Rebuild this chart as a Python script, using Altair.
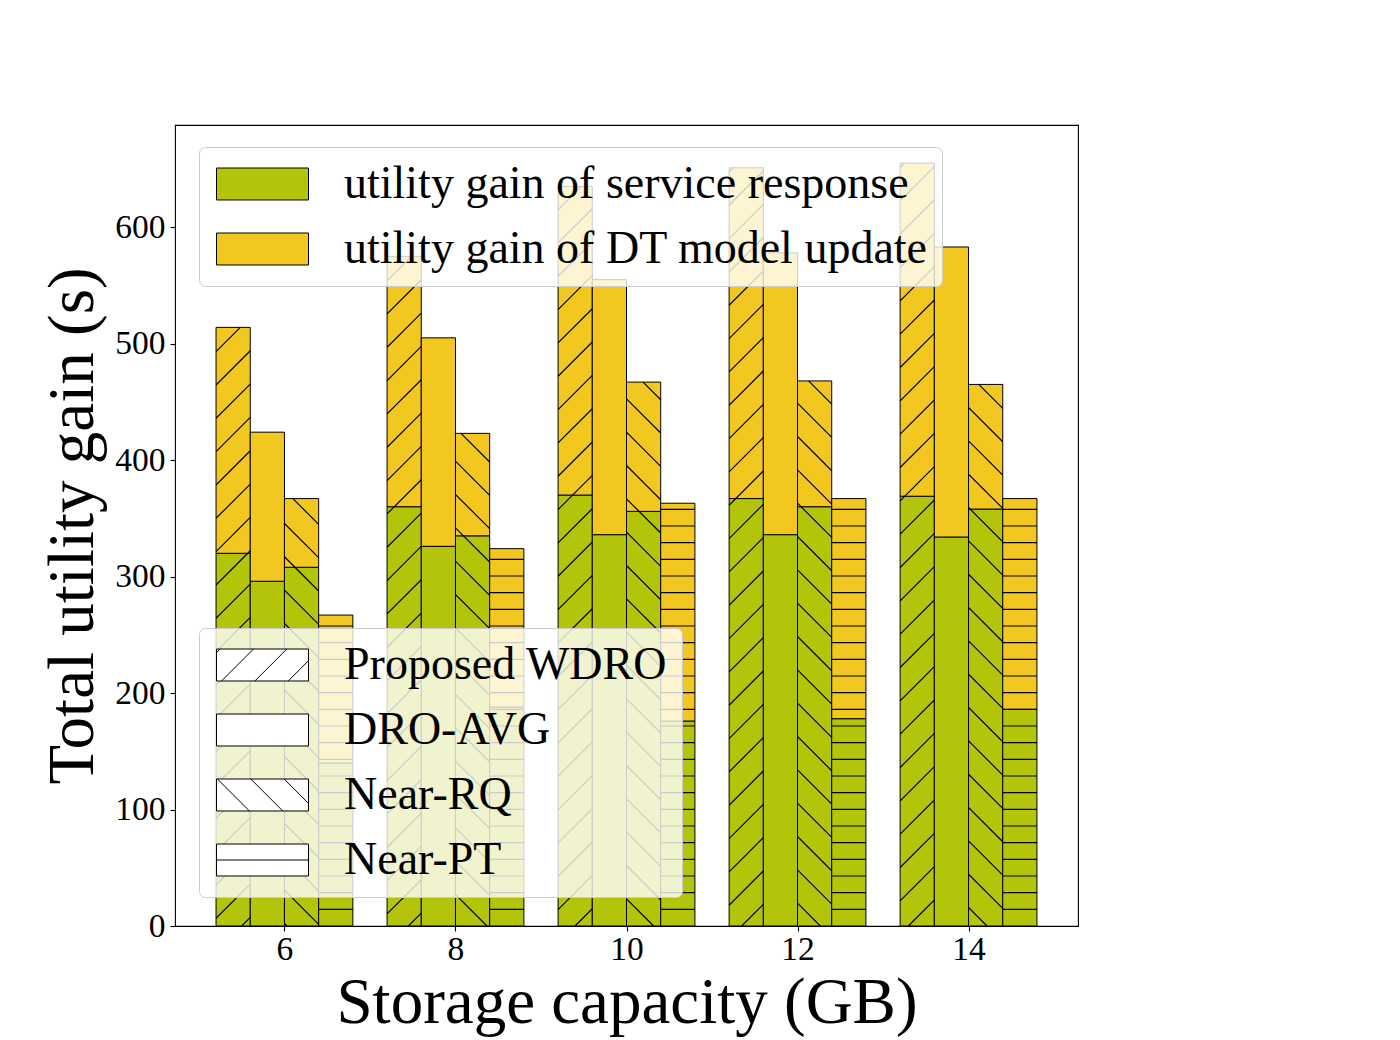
import altair as alt
import pandas as pd
import numpy as np

# ---------------- data ----------------
caps = [6, 8, 10, 12, 14]
methods = ["Proposed WDRO", "DRO-AVG", "Near-RQ", "Near-PT"]
components = ["utility gain of service response", "utility gain of DT model update"]

service_wdro = [320, 360, 370, 367, 369]
service_avg = [296, 326, 336, 336, 334]
service_rq = [308, 335, 356, 360, 358]
service_pt = [140, 188, 176, 178, 186]

update_wdro = [194, 215, 265, 284, 286]
update_avg = [128, 179, 219, 242, 249]
update_rq = [59, 88, 111, 108, 107]
update_pt = [127, 136, 187, 189, 181]

hatches = ["/", "", "\\", "-"]

# ---------------- style / layout ----------------
GREEN = "#b3c40a"
YELLOW = "#f2c71f"
FONT = "Liberation Serif"
W, H = 903, 801
XMIN, XMAX = 4.72, 15.28
YMAX = 687.75
BAR_W = 0.4
SX = W / (XMAX - XMIN)
SY = H / YMAX
P_DIAG = 100.0 / 3.0   # hatch period for diagonal lines (px)
P_HORZ = 100.0 / 6.0   # hatch period for horizontal lines (px)

services = [service_wdro, service_avg, service_rq, service_pt]
updates = [update_wdro, update_avg, update_rq, update_pt]

bar_rows = []
hatch_rows = []
for mi, m in enumerate(methods):
    for ci, c in enumerate(caps):
        x0 = c + (mi - 2) * BAR_W
        x1 = x0 + BAR_W
        s = services[mi][ci]
        u = updates[mi][ci]
        bar_rows.append(dict(method=m, component=components[0], x0=x0, x1=x1, y0=0, y1=s))
        bar_rows.append(dict(method=m, component=components[1], x0=x0, x1=x1, y0=s, y1=s + u))
        # hatch segments (computed in pixel space, returned to data space)
        px0 = (x0 - XMIN) * SX
        px1 = (x1 - XMIN) * SX
        py1 = (s + u) * SY
        segs = []
        h = hatches[mi]
        if h == "/":
            k0 = int(np.floor((px0 - py1) / P_DIAG)) - 1
            k1 = int(np.ceil(px1 / P_DIAG)) + 1
            for k in range(k0, k1 + 1):
                cc = k * P_DIAG
                ylo = max(0.0, px0 - cc)
                yhi = min(py1, px1 - cc)
                if yhi - ylo > 0.5:
                    segs.append((cc + ylo, ylo, cc + yhi, yhi))
        elif h == "\\":
            k0 = int(np.floor(px0 / P_DIAG)) - 1
            k1 = int(np.ceil((px1 + py1) / P_DIAG)) + 1
            for k in range(k0, k1 + 1):
                cc = k * P_DIAG + 12.0
                ylo = max(0.0, cc - px1)
                yhi = min(py1, cc - px0)
                if yhi - ylo > 0.5:
                    segs.append((cc - ylo, ylo, cc - yhi, yhi))
        elif h == "-":
            k = 1
            while k * P_HORZ < py1 - 0.5:
                yy = k * P_HORZ
                segs.append((px0, yy, px1, yy))
                k += 1
        for (ax, ay, bx, by) in segs:
            hatch_rows.append(dict(method=m,
                                   hx=XMIN + ax / SX, hy=ay / SY,
                                   hx2=XMIN + bx / SX, hy2=by / SY))

bars = pd.DataFrame(bar_rows)
hatch_df = pd.DataFrame(hatch_rows)

# ---------------- legend symbol paths ----------------
HH = 16.0 / 46.0
RECT = f"M-1,{-HH:.4f}L1,{-HH:.4f}L1,{HH:.4f}L-1,{HH:.4f}Z"
SP = P_DIAG / 46.0


def diag_path(kind, start):
    parts = []
    for k in range(-4, 6):
        c = start + k * SP
        if kind == "/":  # x + y = c  (svg y downward)
            ylo = max(-HH, c - 1)
            yhi = min(HH, c + 1)
            if yhi - ylo > 0.05:
                parts.append(f"M{c - ylo:.4f},{ylo:.4f}L{c - yhi:.4f},{yhi:.4f}")
        else:  # x - y = c
            ylo = max(-HH, -1 - c)
            yhi = min(HH, 1 - c)
            if yhi - ylo > 0.05:
                parts.append(f"M{c + ylo:.4f},{ylo:.4f}L{c + yhi:.4f},{yhi:.4f}")
    return "".join(parts)


legend_paths = [
    RECT + diag_path("/", -0.891 + HH),
    RECT,
    RECT + diag_path("\\", -1.0 + HH + 0.02),
    RECT + "M-1,0L1,0",
]

legend_carrier = pd.DataFrame({"method": methods,
                               "lx": [XMIN - 1.0] * len(methods),
                               "ly": [0.0] * len(methods)})

# ---------------- chart ----------------
xscale = alt.Scale(domain=[XMIN, XMAX], nice=False, zero=False)
yscale = alt.Scale(domain=[0, YMAX], nice=False, zero=False)

xaxis = alt.Axis(values=caps, format="d", title="Storage capacity (GB)",
                 titleFont=FONT, titleFontSize=65, titleFontWeight="normal",
                 titleColor="black", titlePadding=6,
                 labelFont=FONT, labelFontSize=33.5, labelColor="black",
                 labelPadding=2, tickColor="black", tickSize=5, tickWidth=1.1,
                 domain=False, grid=False)
yaxis = alt.Axis(values=[0, 100, 200, 300, 400, 500, 600], format="d",
                 title="Total utility gain (s)",
                 titleFont=FONT, titleFontSize=65, titleFontWeight="normal",
                 titleColor="black", titlePadding=8,
                 labelFont=FONT, labelFontSize=33.5, labelColor="black",
                 labelPadding=5, tickColor="black", tickSize=5, tickWidth=1.1,
                 domain=False, grid=False)

legend_common = dict(title=None, orient="none", symbolSize=8464,
                     symbolStrokeWidth=1,
                     labelFont=FONT, labelFontSize=46, labelColor="black",
                     labelOffset=35, labelLimit=1200, rowPadding=19,
                     padding=14, fillColor="rgba(255,255,255,0.8)",
                     strokeColor="#cccccc", cornerRadius=6, symbolOffset=3,
                     clipHeight=46)

bar_layer = alt.Chart(bars).mark_bar(stroke="black", strokeWidth=1).encode(
    x=alt.X("x0:Q", scale=xscale, axis=xaxis),
    x2="x1:Q",
    y=alt.Y("y0:Q", scale=yscale, axis=yaxis),
    y2="y1:Q",
    color=alt.Color("component:N",
                    scale=alt.Scale(domain=components, range=[GREEN, YELLOW]),
                    legend=alt.Legend(legendX=24, legendY=22,
                                      symbolType=RECT,
                                      symbolStrokeColor="black",
                                      **legend_common)),
)

hatch_layer = alt.Chart(hatch_df).mark_rule(color="black", strokeWidth=1.2).encode(
    x=alt.X("hx:Q", scale=xscale, axis=xaxis),
    x2="hx2:Q",
    y=alt.Y("hy:Q", scale=yscale, axis=yaxis),
    y2="hy2:Q",
)

method_legend = alt.Legend(legendX=24, legendY=503,
                           symbolFillColor="white", **legend_common)

shape_layer = alt.Chart(legend_carrier).mark_point(
    filled=False, fill="white", strokeWidth=1,
    size=8464, opacity=1, clip=True
).encode(
    x=alt.X("lx:Q", scale=xscale, axis=xaxis),
    y=alt.Y("ly:Q", scale=yscale, axis=yaxis),
    shape=alt.Shape("method:N",
                    scale=alt.Scale(domain=methods, range=legend_paths),
                    legend=method_legend),
    stroke=alt.Stroke("method:N",
                      scale=alt.Scale(domain=methods,
                                      range=["black", "black", "black", "black"]),
                      legend=method_legend),
)

chart = alt.layer(bar_layer, hatch_layer, shape_layer).resolve_legend(
    color="independent", shape="independent", stroke="independent"
).properties(
    width=W, height=H,
    autosize=alt.AutoSizeParams(type="none"),
    padding={"left": 167, "top": 117, "right": 40, "bottom": 112},
    background="white",
).configure_view(stroke="black", strokeWidth=1.1)

chart.save("out.html", embed_options={"renderer": "svg", "actions": False})
